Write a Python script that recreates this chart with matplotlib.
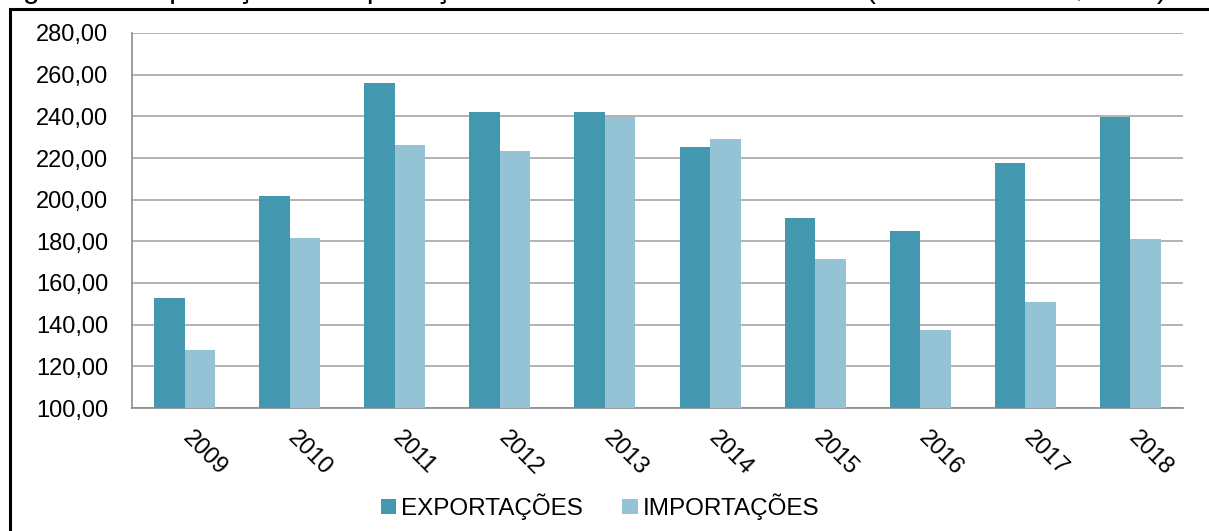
import numpy as np
import matplotlib.pyplot as plt
import matplotlib.transforms as mtransforms
from matplotlib.patches import Rectangle

years = ["2009", "2010", "2011", "2012", "2013", "2014", "2015", "2016", "2017", "2018"]
exportacoes = [153.0, 201.9, 256.0, 242.3, 242.0, 225.1, 191.1, 185.2, 217.7, 239.9]
importacoes = [127.7, 181.8, 226.2, 223.2, 239.7, 229.1, 171.4, 137.6, 150.7, 181.2]
yticks = [100, 120, 140, 160, 180, 200, 220, 240, 260, 280]

EXP_COLOR = "#4397AF"
IMP_COLOR = "#93C3D5"
GRID = "#A6A6A6"

plt.rcParams["font.family"] = ["Liberation Sans", "DejaVu Sans"]

W, H = 1209, 531
fig = plt.figure(figsize=(W / 100, H / 100), dpi=100)

# outer frame of the figure (clipped on right / bottom)
fig.patches.append(Rectangle((10 / W, -0.1), 1.2, 1 - 9 / H + 0.1,
                             transform=fig.transFigure, fill=False,
                             edgecolor="black", linewidth=2.2, clip_on=False))

# caption, mostly cut off at the top edge as in the source
fig.text(-2 / W, 1 + 2 / H,
         "Figura 1 - Exportações e Importações brasileiras de 2009 a 2018 (em bilhões US$ FOB)",
         fontsize=21.5, va="baseline", ha="left")

ax = fig.add_axes([132 / W, (H - 408) / H, (1183 - 132) / W, (408 - 33) / H])

x = np.arange(len(years))
w = 0.29
ax.bar(x - w / 2, exportacoes, width=w, color=EXP_COLOR, label="EXPORTAÇÕES", zorder=3)
ax.bar(x + w / 2, importacoes, width=w, color=IMP_COLOR, label="IMPORTAÇÕES", zorder=3)

ax.set_xlim(-0.5, len(years) - 0.5)
ax.set_ylim(100, 280)
ax.set_yticks(yticks)
ax.set_yticklabels([f"{v},00" for v in yticks], fontsize=17)
ax.yaxis.grid(True, color=GRID, linewidth=1.2, zorder=0)
ax.tick_params(axis="y", length=0, pad=17)
ax.tick_params(axis="x", length=0, pad=14)

ax.set_xticks(x)
ax.set_xticklabels(years, rotation=-45, ha="left", fontsize=17)
offset = mtransforms.ScaledTranslation(-6 / 100, 0, fig.dpi_scale_trans)
for lbl in ax.get_xticklabels():
    lbl.set_transform(lbl.get_transform() + offset)

for side in ["top", "right"]:
    ax.spines[side].set_visible(False)
for side in ["left", "bottom"]:
    ax.spines[side].set_color("#8C8C8C")
    ax.spines[side].set_linewidth(1.2)

fig.legend(loc="center", bbox_to_anchor=(600 / W, 1 - 507 / H), ncol=2, frameon=False,
           fontsize=17.5, handlelength=0.65, handleheight=0.55, handletextpad=0.2,
           columnspacing=1.6)

fig.savefig("out.png", dpi=100)
